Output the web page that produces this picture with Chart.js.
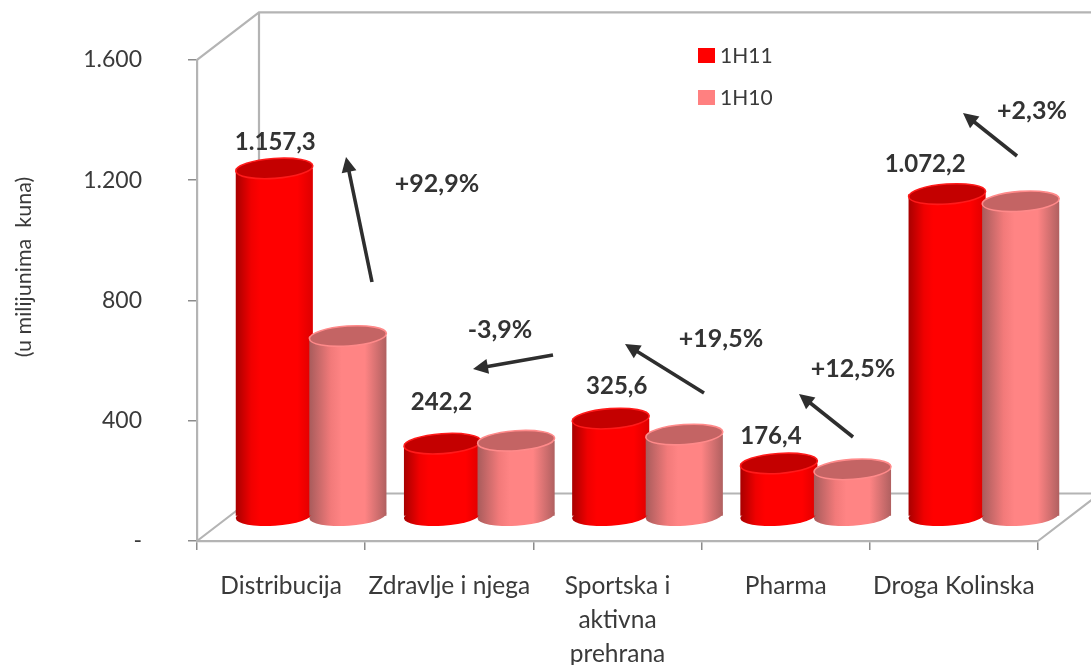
<!DOCTYPE html>
<html>
<head>
<meta charset="utf-8">
<script src="https://cdn.jsdelivr.net/npm/chart.js@4/dist/chart.umd.js"></script>
<style>html,body{margin:0;padding:0;background:#fff}canvas{display:block}</style>
</head>
<body>
<canvas id="c" width="1091" height="665"></canvas>
<script>
const categories = ["Distribucija", "Zdravlje i njega", ["Sportska i", "aktivna", "prehrana"], "Pharma", "Droga Kolinska"];
const series1H11 = [1157.3, 242.2, 325.6, 176.4, 1072.2];
const series1H10 = [600, 252, 272.5, 156.8, 1048];
const yTicks = [0, 400, 800, 1200, 1600];
const changeLabels = ["+92,9%", "-3,9%", "+19,5%", "+12,5%", "+2,3%"];

// annotation placement (pixels on the page), not data
const valueLabelOffsets = [[1, -26], [-1, -41], [6, -32], [-8, -27], [-22, -30]];
const changeLabelCentres = [[437, 184], [500, 330], [721, 339], [853, 369], [1032, 111]];
const arrows = [[372, 282, 346, 157], [553, 355, 473, 369], [704, 393, 625, 344], [853, 437, 799, 394], [1017, 156, 963, 113]];

const INK = "#3a3a3a", WALL = "#b4b4b4";
const FONT = "Lato, 'Open Sans', sans-serif";
const BAR_DX = 30, BAR_DY = -24.5, DEPTH_X = 62, DEPTH_Y = -47.5;
const RY = 10, TILT = -4 * Math.PI / 180;

const looks = [
  { stops: [[0, "#a80000"], [0.2, "#f00000"], [0.32, "#ff0000"], [0.8, "#ff0000"], [1, "#dd0000"]], top: "#c40000", rim: "#ff1a1a" },
  { stops: [[0, "#a85c5c"], [0.28, "#f27a7a"], [0.42, "#ff8484"], [0.72, "#ff8484"], [1, "#b06060"]], top: "#c46464", rim: "#ff8a8a" }
];

function fmt(v) {
  const p = v.toFixed(1).split(".");
  return p[0].replace(/\B(?=(\d{3})+$)/g, ".") + "," + p[1];
}
function ellipse(ctx, x, y, rx, ry) {
  ctx.beginPath();
  ctx.ellipse(x, y, rx, ry, TILT, 0, Math.PI * 2);
}

const cylinders = {
  id: "cylinders",
  beforeDatasetsDraw(chart) {
    const { ctx, chartArea: a } = chart;
    ctx.save();
    ctx.strokeStyle = WALL;
    ctx.lineWidth = 2.2;
    const bx = a.left + DEPTH_X, ty = a.top + DEPTH_Y, by = a.bottom + DEPTH_Y;
    ctx.beginPath();
    ctx.moveTo(a.left, a.top); ctx.lineTo(bx, ty); ctx.lineTo(1091, ty);
    ctx.moveTo(bx, ty); ctx.lineTo(bx, by); ctx.lineTo(1091, by);
    ctx.moveTo(a.left, a.bottom); ctx.lineTo(bx, by);
    ctx.moveTo(a.right, a.bottom); ctx.lineTo(a.right + DEPTH_X, by);
    ctx.stroke();
    ctx.restore();

    // 1H11 first, then 1H10 so the pink cylinder overlaps the red one
    chart.data.datasets.forEach((d, di) => {
      const look = looks[di];
      chart.getDatasetMeta(di).data.forEach(el => {
        const p = el.getProps(["x", "y", "base", "width"], true);
        const x = p.x + BAR_DX, top = p.y + BAR_DY, bot = p.base + BAR_DY, r = p.width / 2;
        const g = ctx.createLinearGradient(x - r, 0, x + r, 0);
        look.stops.forEach(s => g.addColorStop(s[0], s[1]));
        ctx.save();
        ctx.fillStyle = g;
        ellipse(ctx, x, bot, r, RY); ctx.fill();
        ctx.fillRect(x - r, top, p.width, bot - top);
        ellipse(ctx, x, top, r, RY);
        ctx.fillStyle = look.top; ctx.fill();
        ctx.strokeStyle = look.rim; ctx.lineWidth = 1.6; ctx.stroke();
        ctx.restore();
      });
    });
  },
  beforeDatasetDraw() { return false; },
  afterDatasetsDraw(chart) {
    const { ctx } = chart;
    ctx.save();
    ctx.textAlign = "center";
    ctx.textBaseline = "middle";
    ctx.fillStyle = "#333";
    ctx.font = "bold 24px " + FONT;
    chart.getDatasetMeta(0).data.forEach((el, i) => {
      const o = valueLabelOffsets[i];
      ctx.fillText(fmt(series1H11[i]), el.x + BAR_DX + o[0], el.y + BAR_DY + o[1]);
    });
    ctx.font = "bold 25px " + FONT;
    changeLabels.forEach((t, i) => ctx.fillText(t, changeLabelCentres[i][0], changeLabelCentres[i][1]));

    ctx.strokeStyle = "#2e2e2e"; ctx.fillStyle = "#2e2e2e"; ctx.lineWidth = 3.6;
    arrows.forEach(a => {
      const ang = Math.atan2(a[3] - a[1], a[2] - a[0]), L = 15, W = 7.5;
      const c = Math.cos(ang), s = Math.sin(ang);
      ctx.beginPath(); ctx.moveTo(a[0], a[1]); ctx.lineTo(a[2] - c * L * 0.8, a[3] - s * L * 0.8); ctx.stroke();
      ctx.beginPath(); ctx.moveTo(a[2], a[3]);
      ctx.lineTo(a[2] - c * L - s * W, a[3] - s * L + c * W);
      ctx.lineTo(a[2] - c * L + s * W, a[3] - s * L - c * W);
      ctx.closePath(); ctx.fill();
    });

    ctx.textAlign = "left";
    ctx.font = "21px " + FONT;
    chart.data.datasets.forEach((d, i) => {
      const y = 48 + i * 42;
      ctx.fillStyle = d.backgroundColor;
      ctx.fillRect(698, y, 17, 15);
      ctx.fillStyle = INK;
      ctx.fillText(d.label, 720, y + 8.5);
    });

    ctx.translate(24, 267);
    ctx.rotate(-Math.PI / 2);
    ctx.textAlign = "center";
    ctx.font = "21.5px " + FONT;
    ctx.fillText("(u milijunima  kuna)", 0, 0);
    ctx.restore();
  }
};

new Chart(document.getElementById("c"), {
  type: "bar",
  plugins: [cylinders],
  data: {
    labels: categories,
    datasets: [
      { label: "1H11", data: series1H11, backgroundColor: "#ff0000", categoryPercentage: 0.875, barPercentage: 1.048 },
      { label: "1H10", data: series1H10, backgroundColor: "#ff8080", categoryPercentage: 0.875, barPercentage: 1.048 }
    ]
  },
  options: {
    responsive: false,
    animation: false,
    layout: { padding: { top: 59.5, right: 53, left: 0, bottom: 0 } },
    plugins: { legend: { display: false }, tooltip: { enabled: false }, title: { display: false } },
    scales: {
      x: {
        afterFit(s) { s.height = 124; },
        grid: { drawOnChartArea: false, color: "#8c8c8c", tickLength: 9, lineWidth: 1.5 },
        border: { color: WALL, width: 2.2 },
        ticks: { maxRotation: 0, minRotation: 0, autoSkip: false, color: INK, padding: 19, font: { family: FONT, size: 24.5, lineHeight: 1.39 } }
      },
      y: {
        min: 0, max: 1600,
        afterFit(s) { s.width = 197; },
        afterBuildTicks(s) { s.ticks = yTicks.map(v => ({ value: v })); },
        grid: { drawOnChartArea: false, color: "#8c8c8c", tickLength: 9, lineWidth: 1.5 },
        border: { color: WALL, width: 2.2 },
        ticks: {
          color: INK, padding: 46, font: { family: FONT, size: 23 },
          callback(v) { return v === 0 ? "-" : String(v).replace(/\B(?=(\d{3})+$)/g, "."); }
        }
      }
    }
  }
});
</script>
</body>
</html>
